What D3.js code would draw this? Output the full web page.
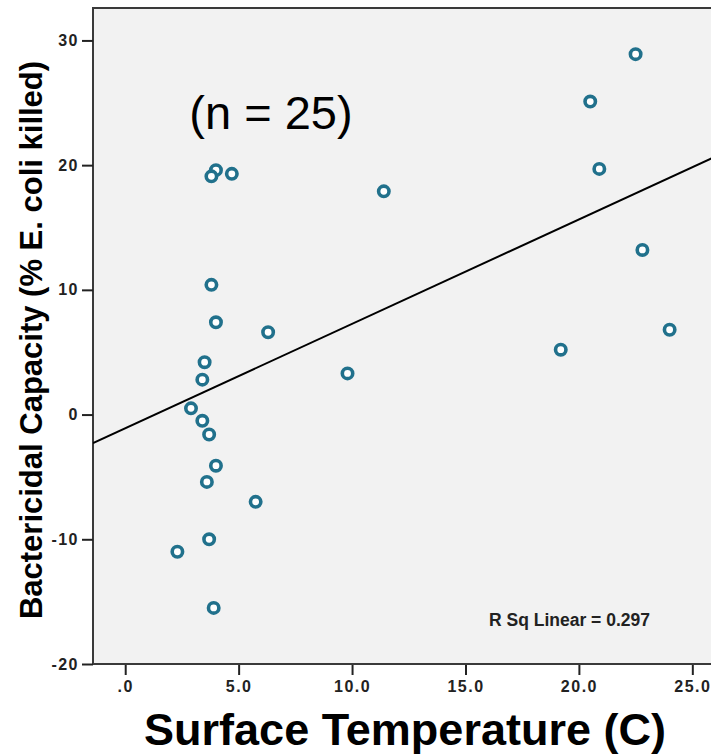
<!DOCTYPE html>
<html>
<head>
<meta charset="utf-8">
<script src="https://cdn.jsdelivr.net/npm/d3@7/dist/d3.min.js"></script>
<style>
  html, body { margin: 0; padding: 0; background: #ffffff; }
  svg { display: block; font-family: "Liberation Sans", Arial, sans-serif; }
</style>
</head>
<body>
<div id="grafica"></div>
<script>
// temperatura superficial (C) y capacidad bactericida (% E. coli eliminada)
const temperatura = [22.5, 20.5, 20.9, 22.8, 24.0, 19.2, 11.4, 9.8, 6.3, 5.75,
                     4.0, 3.8, 4.7, 3.8, 4.0, 3.5, 3.4, 2.9, 3.4, 3.7,
                     4.0, 3.6, 3.7, 2.3, 3.9];
const capacidad = [28.9, 25.1, 19.7, 13.2, 6.8, 5.2, 17.9, 3.3, 6.6, -7.0,
                   19.6, 19.1, 19.3, 10.4, 7.4, 4.2, 2.8, 0.5, -0.5, -1.6,
                   -4.1, -5.4, -10.0, -11.0, -15.5];
const ticksX = [0, 5, 10, 15, 20, 25];
const ticksY = [-20, -10, 0, 10, 20, 30];
const etiquetaN = "(n = 25)";
const etiquetaR2 = "R Sq Linear = 0.297";

const ancho = 711, alto = 756;
const margen = { top: 8, left: 93, right: -4, bottom: 92 };

const svg = d3.select("#grafica").append("svg")
    .attr("width", ancho)
    .attr("height", alto);

const x = d3.scaleLinear()
    .domain([-1.42, 26.0])
    .range([margen.left, ancho - margen.right]);

const y = d3.scaleLinear()
    .domain([-20, 32.6])
    .range([alto - margen.bottom, margen.top]);

// fondo del area de trazado
svg.append("rect")
    .attr("x", margen.left)
    .attr("y", margen.top)
    .attr("width", x.range()[1] - margen.left)
    .attr("height", y.range()[0] - margen.top)
    .attr("fill", "#f2f2f2")
    .attr("stroke", "#3a3a3a")
    .attr("stroke-width", 2);

// eje X
const ejeX = svg.append("g")
    .attr("transform", `translate(0,${y.range()[0] + 1})`)
    .call(d3.axisBottom(x).tickValues(ticksX).tickSize(10).tickPadding(6)
        .tickFormat(d => d === 0 ? ".0" : d.toFixed(1)));
ejeX.select(".domain").remove();
ejeX.selectAll("line").attr("stroke", "#222").attr("stroke-width", 2);
ejeX.selectAll("text")
    .attr("fill", "#222")
    .style("font-size", "16px")
    .style("font-weight", "bold")
    .style("letter-spacing", "1.5px");

// eje Y (guion normal, como en el original)
const ejeY = svg.append("g")
    .attr("transform", `translate(${margen.left},0)`)
    .call(d3.axisLeft(y).tickValues(ticksY).tickSize(11).tickPadding(3)
        .tickFormat(d => String(d)));
ejeY.select(".domain").remove();
ejeY.selectAll("line").attr("stroke", "#222").attr("stroke-width", 2);
ejeY.selectAll("text")
    .attr("fill", "#222")
    .style("font-size", "16px")
    .style("font-weight", "bold")
    .style("letter-spacing", "1.5px");

// recta de regresion por minimos cuadrados
const mediaX = d3.mean(temperatura), mediaY = d3.mean(capacidad);
const sxy = d3.sum(temperatura, (t, i) => (t - mediaX) * (capacidad[i] - mediaY));
const sxx = d3.sum(temperatura, t => (t - mediaX) ** 2);
const pendiente = sxy / sxx;
const ordenada = mediaY - pendiente * mediaX;

svg.append("clipPath").attr("id", "recorte")
    .append("rect")
    .attr("x", margen.left).attr("y", margen.top)
    .attr("width", x.range()[1] - margen.left)
    .attr("height", y.range()[0] - margen.top);

svg.append("line")
    .attr("clip-path", "url(#recorte)")
    .attr("x1", x(x.domain()[0]))
    .attr("y1", y(ordenada + pendiente * x.domain()[0]))
    .attr("x2", x(x.domain()[1]))
    .attr("y2", y(ordenada + pendiente * x.domain()[1]))
    .attr("stroke", "#000")
    .attr("stroke-width", 2);

// puntos
svg.selectAll("circle.punto")
    .data(temperatura)
    .enter()
    .append("circle")
    .attr("class", "punto")
    .attr("cx", d => x(d))
    .attr("cy", (d, i) => y(capacidad[i]))
    .attr("r", 5.2)
    .attr("fill", "#ffffff")
    .attr("stroke", "#21718c")
    .attr("stroke-width", 3.6);

// textos
svg.append("text")
    .attr("x", 271)
    .attr("y", 129)
    .attr("text-anchor", "middle")
    .style("font-size", "47px")
    .attr("fill", "#000")
    .text(etiquetaN);

svg.append("text")
    .attr("x", 489)
    .attr("y", 626)
    .style("font-size", "17.5px")
    .style("font-weight", "bold")
    .attr("fill", "#222")
    .text(etiquetaR2);

svg.append("text")
    .attr("x", 405)
    .attr("y", 745)
    .attr("text-anchor", "middle")
    .style("font-size", "45px")
    .style("font-weight", "bold")
    .attr("fill", "#000")
    .text("Surface Temperature (C)");

svg.append("text")
    .attr("transform", "translate(42,340) rotate(-90)")
    .attr("text-anchor", "middle")
    .style("font-size", "31px")
    .style("font-weight", "bold")
    .attr("fill", "#000")
    .text("Bactericidal Capacity (% E. coli killed)");
</script>
</body>
</html>
